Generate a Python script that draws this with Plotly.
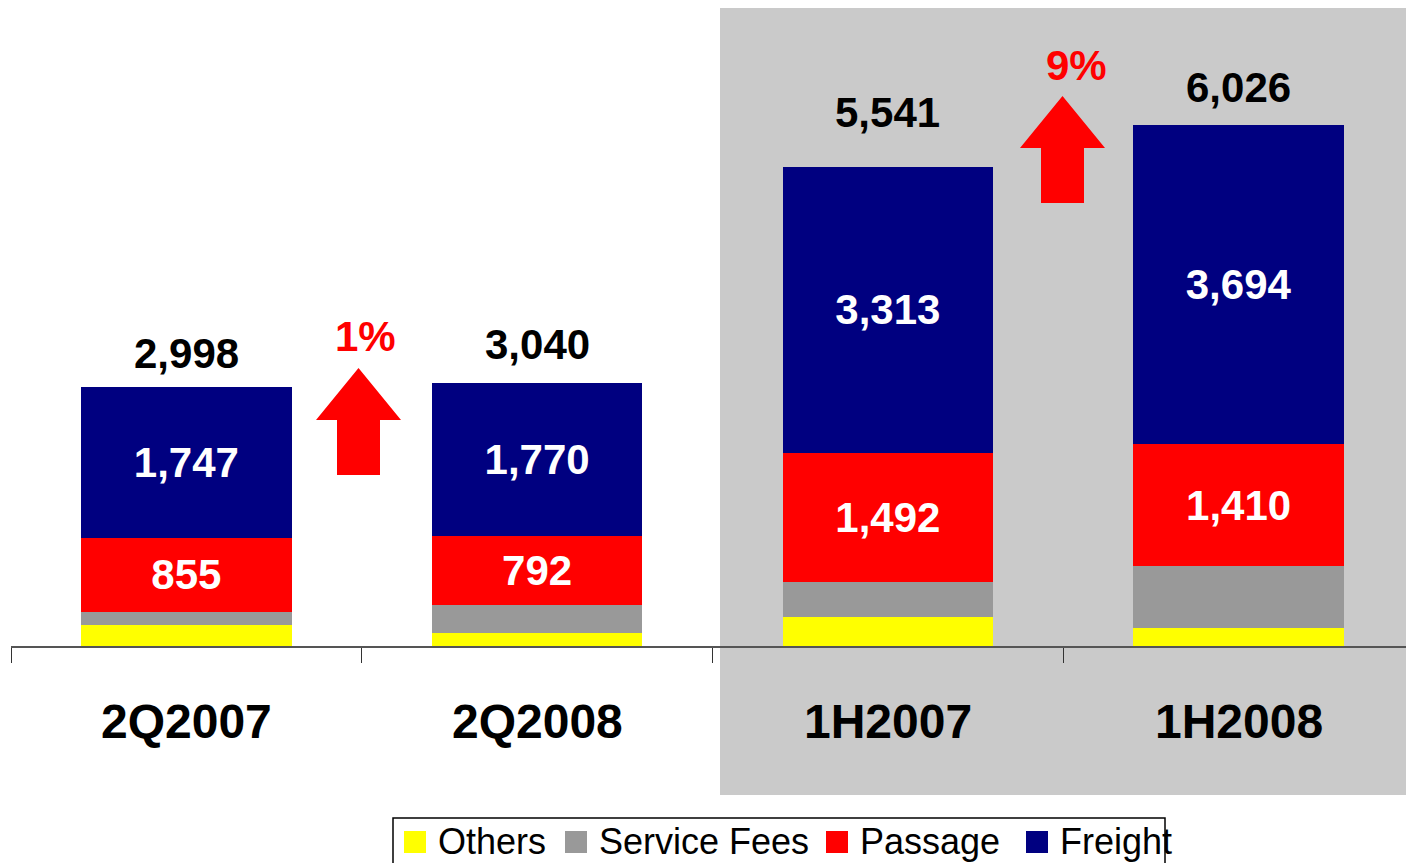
import plotly.graph_objects as go

categories = ["2Q2007", "2Q2008", "1H2007", "1H2008"]
others = [244, 147, 330, 210]
service_fees = [152, 331, 406, 712]
passage = [855, 792, 1492, 1410]
freight = [1747, 1770, 3313, 3694]
totals = [2998, 3040, 5541, 6026]
growth_labels = ["1%", "9%"]

series_names = ["Others", "Service Fees", "Passage", "Freight"]
series_colors = ["#FFFF00", "#999999", "#FF0000", "#000080"]

FONT = "Liberation Sans, Arial, sans-serif"
W, H = 1414, 863
OFF = 8  # page margin of the browser view
L = 11 - OFF
R = OFF
PW = W - L - R
BASE = 646 - OFF
B = H - BASE
PX_PER_UNIT = 0.0865
y_max = BASE / PX_PER_UNIT


def px_x(x):
    return (x - OFF - L) / PW


def px_y(y):
    return (BASE - (y - OFF)) / BASE


fig = go.Figure()
for name, vals, color in zip(series_names, [others, service_fees, passage, freight], series_colors):
    show_text = name in ("Passage", "Freight")
    fig.add_trace(go.Bar(
        x=categories, y=vals, name=name, marker_color=color, marker_line_width=0,
        texttemplate="%{y:,}" if show_text else None,
        textposition="inside" if show_text else "none",
        insidetextanchor="middle", textangle=0, constraintext="none",
        textfont=dict(family=FONT, size=42, color="white", weight="bold"),
        showlegend=False,
    ))

# totals above bars
total_offsets = [33, 39, 54, 37]
for cat, tot, off in zip(categories, totals, total_offsets):
    fig.add_annotation(x=cat, y=tot, text=f"{tot:,}", showarrow=False, yshift=off,
                       xanchor="center", yanchor="middle",
                       font=dict(family=FONT, size=42, color="black", weight="bold"))

# category labels
for cat in categories:
    fig.add_annotation(x=cat, y=px_y(721), yref="paper", text=cat, showarrow=False,
                       xanchor="center", yanchor="middle",
                       font=dict(family=FONT, size=48, color="black", weight="bold"))

# shaded region behind the half-year bars
fig.add_shape(type="rect", xref="paper", yref="paper", x0=px_x(720), x1=px_x(1430),
              y0=px_y(795), y1=px_y(7), fillcolor="#CACACA", line_width=0, layer="below")

# growth arrows between the pairs
arrow_bottoms = [1977, 5121]
arrow_x = [px_x(358.5), px_x(1062.5)]
head_half = 42.5 / PW
shaft_half = 21.5 / PW
arrow_len = 107 / PX_PER_UNIT
head_len = 52 / PX_PER_UNIT
label_dx = [7, 14]
for cx, yb, lab, dx in zip(arrow_x, arrow_bottoms, growth_labels, label_dx):
    tip = yb + arrow_len
    hb = tip - head_len
    path = (f"M {cx - shaft_half},{yb} L {cx + shaft_half},{yb} L {cx + shaft_half},{hb} "
            f"L {cx + head_half},{hb} L {cx},{tip} L {cx - head_half},{hb} L {cx - shaft_half},{hb} Z")
    fig.add_shape(type="path", xref="paper", yref="y", path=path,
                  fillcolor="#FF0000", line_width=0)
    fig.add_annotation(x=cx + dx / PW, xref="paper", y=tip, text=lab, showarrow=False,
                       xanchor="center", yanchor="middle", yshift=31,
                       font=dict(family=FONT, size=42, color="#FF0000", weight="bold"))

# legend box drawn by hand
fig.add_shape(type="rect", xref="paper", yref="paper", x0=px_x(393), x1=px_x(1165),
              y0=px_y(900), y1=px_y(818), fillcolor="white", line=dict(color="black", width=1.5))
legend_sq_x = [404, 565, 826, 1026]
for name, color, sx in zip(series_names, series_colors, legend_sq_x):
    fig.add_shape(type="rect", xref="paper", yref="paper", x0=px_x(sx), x1=px_x(sx + 22),
                  y0=px_y(853), y1=px_y(831), fillcolor=color, line_width=0)
    fig.add_annotation(x=px_x(sx + 32), y=px_y(841), xref="paper", yref="paper", text=name,
                       showarrow=False, xanchor="left", yanchor="middle",
                       font=dict(family=FONT, size=36, color="black"))

fig.update_layout(
    barmode="stack", bargap=0.4,
    width=W, height=H, margin=dict(l=L, r=R, t=0, b=B),
    paper_bgcolor="white", plot_bgcolor="rgba(0,0,0,0)",
    showlegend=False,
)
fig.update_xaxes(type="category", tickson="boundaries", ticks="outside", ticklen=15,
                 tickcolor="#333333", showticklabels=False, showline=True,
                 linecolor="#555555", linewidth=1.5, showgrid=False)
fig.update_yaxes(range=[0, y_max], visible=False, showgrid=False)

fig.write_html("out.html")
